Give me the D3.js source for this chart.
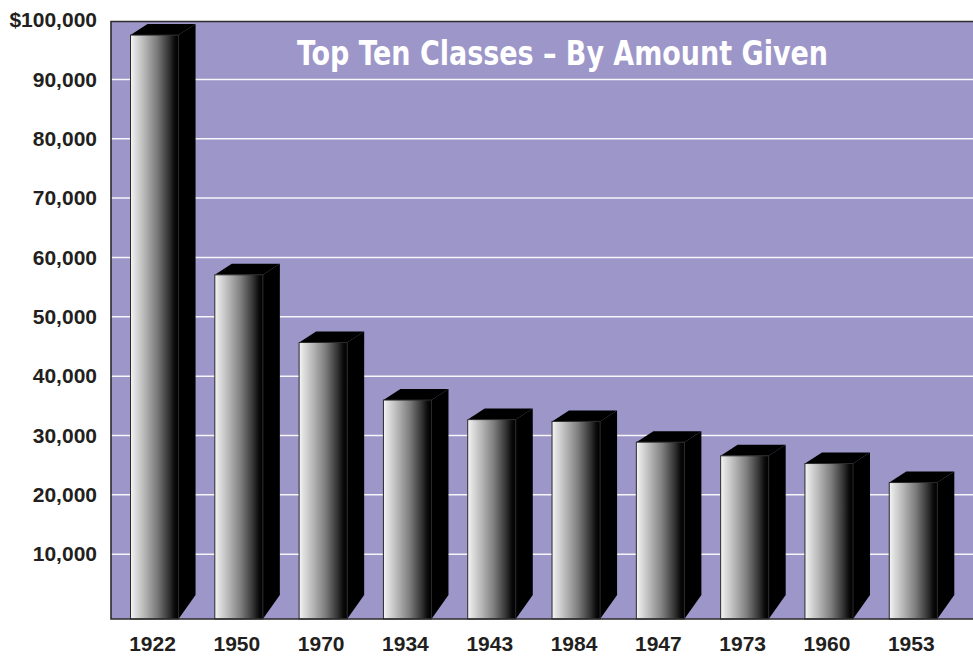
<!DOCTYPE html>
<html>
<head>
<meta charset="utf-8">
<script src="https://cdn.jsdelivr.net/npm/d3@7"></script>
<style>
  html, body { margin: 0; padding: 0; background: #ffffff; }
  svg { display: block; }
</style>
</head>
<body>
<svg id="chart" width="973" height="657"></svg>
<script>
// ---- data ----
const years = ["1922", "1950", "1970", "1934", "1943", "1984", "1947", "1973", "1960", "1953"];
const amounts = [98400, 58000, 46600, 36900, 33600, 33300, 29800, 27500, 26200, 23000];
const tickValues = [10000, 20000, 30000, 40000, 50000, 60000, 70000, 80000, 90000, 100000];
const titleText = "Top Ten Classes \u2013 By Amount Given";

// ---- layout ----
const W = 973, H = 657;
const plot = { left: 111, top: 21.5, right: 973, bottom: 619 };
const depthX = 17, depthY = 11;
const svg = d3.select("#chart");

const x = d3.scaleBand().domain(years).range([130.5, 937.3]).paddingInner(0.43).paddingOuter(0);
// gridline scale (mid-depth plane)
const y = d3.scaleLinear().domain([0, 100000]).range([plot.bottom - depthY / 2, 20.1]);

const defs = svg.append("defs");
const grad = defs.append("linearGradient").attr("id", "barGrad")
  .attr("x1", "0%").attr("x2", "100%").attr("y1", "0%").attr("y2", "0%");
[["0%", "#f6f6f6"], ["8%", "#e2e2e2"], ["30%", "#b4b4b4"], ["55%", "#7c7c7c"], ["80%", "#333333"], ["92%", "#0a0a0a"], ["100%", "#000000"]]
  .forEach(([o, c]) => grad.append("stop").attr("offset", o).attr("stop-color", c));

// background
svg.append("rect")
  .attr("x", plot.left).attr("y", plot.top)
  .attr("width", plot.right - plot.left).attr("height", plot.bottom - plot.top)
  .attr("fill", "#9d96c9");

// gridlines
svg.append("g").selectAll("line")
  .data(tickValues.filter(v => v < 100000))
  .join("line")
  .attr("x1", plot.left).attr("x2", plot.right)
  .attr("y1", d => y(d)).attr("y2", d => y(d))
  .attr("stroke", "#ffffff").attr("stroke-width", 1.5).attr("opacity", 0.92);

// title
svg.append("text")
  .attr("x", 562.5).attr("y", 65.3)
  .attr("text-anchor", "middle")
  .attr("font-family", "'Liberation Sans Narrow', 'DejaVu Sans Condensed', sans-serif")
  .attr("font-weight", "bold")
  .attr("font-size", 34)
  .attr("textLength", 531)
  .attr("lengthAdjust", "spacingAndGlyphs")
  .attr("fill", "#ffffff")
  .text(titleText);

// bars
const data = years.map((yr, i) => ({ yr, v: amounts[i] }));
const bw = x.bandwidth();
const bars = svg.append("g").selectAll("g").data(data).join("g");

// side face
bars.append("path")
  .attr("d", d => {
    const x1 = x(d.yr) + bw, yt = y(d.v) + depthY / 2;
    return `M${x1},${yt} L${x1 + depthX},${yt - depthY} L${x1 + depthX},${plot.bottom - 24} L${x1},${plot.bottom} Z`;
  })
  .attr("fill", "#000000");
// top face
bars.append("path")
  .attr("d", d => {
    const x0 = x(d.yr), x1 = x0 + bw, yt = y(d.v) + depthY / 2;
    return `M${x0},${yt} L${x0 + depthX},${yt - depthY} L${x1 + depthX},${yt - depthY} L${x1},${yt} Z`;
  })
  .attr("fill", "#000000");
// front face
bars.append("rect")
  .attr("x", d => x(d.yr))
  .attr("y", d => y(d.v) + depthY / 2)
  .attr("width", bw)
  .attr("height", d => plot.bottom - (y(d.v) + depthY / 2))
  .attr("fill", "url(#barGrad)")
  .attr("stroke", "#2a2a2a").attr("stroke-width", 1);

// plot border (left, top, bottom)
svg.append("path")
  .attr("d", `M${plot.right},${plot.top} L${plot.left},${plot.top} L${plot.left},${plot.bottom} L${plot.right},${plot.bottom}`)
  .attr("fill", "none").attr("stroke", "#2b2b2b").attr("stroke-width", 1.6);

// y axis
const yAxis = svg.append("g")
  .attr("transform", `translate(${plot.left},0)`)
  .call(d3.axisLeft(y).tickValues(tickValues).tickSize(0).tickPadding(14)
    .tickFormat(v => v === 100000 ? "$" + d3.format(",")(v) : d3.format(",")(v)));
yAxis.select(".domain").remove();
yAxis.selectAll("text")
  .attr("font-family", "'Liberation Sans', Arial, sans-serif")
  .attr("font-weight", "bold")
  .attr("font-size", 21)
  .attr("fill", "#231f20");

// x axis
const xAxis = svg.append("g")
  .attr("transform", `translate(-2,${plot.bottom})`)
  .call(d3.axisBottom(x).tickSize(0).tickPadding(17.5));
xAxis.select(".domain").remove();
xAxis.selectAll("text")
  .attr("font-family", "'Liberation Sans', Arial, sans-serif")
  .attr("font-weight", "bold")
  .attr("font-size", 21)
  .attr("fill", "#231f20");
</script>
</body>
</html>
